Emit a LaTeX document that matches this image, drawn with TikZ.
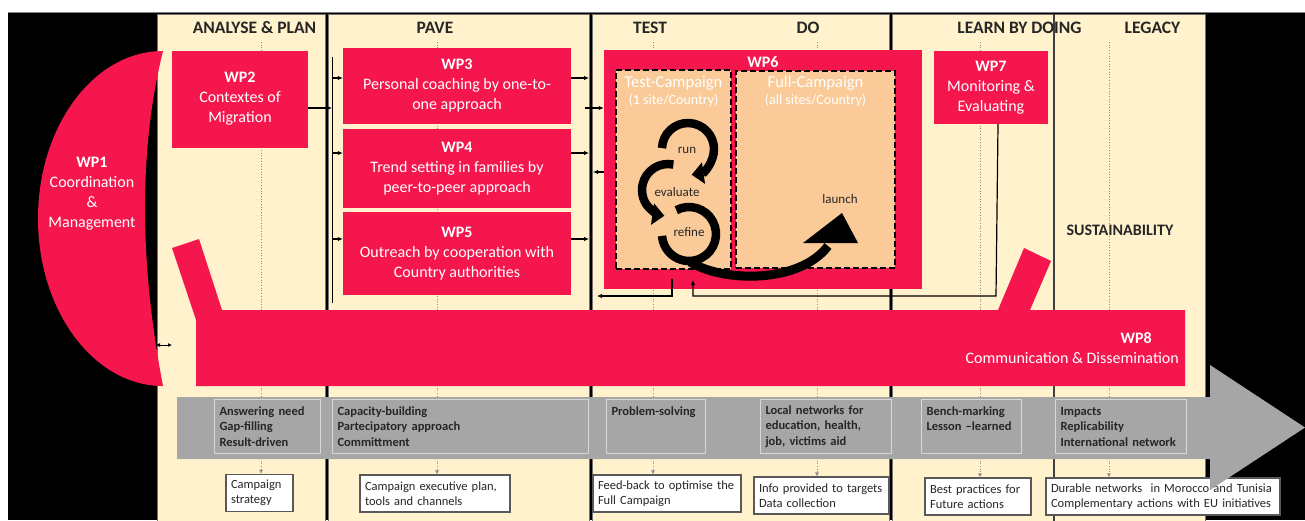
\documentclass[tikz,border=0pt]{standalone}
\usepackage{fontspec}
\setmainfont{Carlito}
\usetikzlibrary{arrows.meta,positioning}

\definecolor{wpred}{RGB}{244,22,76}
\definecolor{cream}{RGB}{255,242,204}
\definecolor{peach}{RGB}{250,203,153}
\definecolor{bandgray}{RGB}{166,166,166}
\definecolor{boxgray}{RGB}{216,216,216}
\definecolor{inkgray}{RGB}{38,38,38}

\begin{document}
\begin{tikzpicture}[x=1pt, y=-1pt]

% Styles for panels, work packages and boxes
\tikzstyle{panel} = [fill=cream, draw=black!55, line width=0.8pt]
\tikzstyle{phase} = [font=\fontsize{17.5}{20}\selectfont\bfseries, text=inkgray]
\tikzstyle{wp} = [fill=wpred, text=white, align=center, inner sep=0pt, font=\fontsize{16}{20}\selectfont]
\tikzstyle{campaign} = [fill=peach, draw=black, line width=1.8pt, dash pattern=on 6pt off 3pt]
\tikzstyle{ctitle} = [text=white, align=center, inner sep=0pt]
\tikzstyle{looptext} = [font=\fontsize{13}{15}\selectfont, text=inkgray]
\tikzstyle{cyclearc} = [line width=8.5pt]
\tikzstyle{feature} = [draw=boxgray, line width=1pt, anchor=north west, align=left, inner sep=5pt, minimum height=54pt, font=\fontsize{12.5}{15.5}\selectfont\bfseries, text=inkgray]
\tikzstyle{output} = [draw=black!65, fill=white, line width=1.2pt, align=left, inner xsep=5pt, minimum height=37pt, font=\fontsize{12.5}{15}\selectfont, text=inkgray]
\tikzstyle{link} = [line width=1.2pt, -{Latex[length=5pt, width=4.5pt]}]
\tikzstyle{guide} = [black!45, dotted, line width=0.7pt, -{Latex[length=4pt, width=4pt]}]

% Canvas
\fill[white] (0,0) rectangle (1305,520);
\useasboundingbox (0,0) rectangle (1305,520);
\fill[black] (8,12) rectangle (1305,520);
\draw[black!50, line width=0.8pt] (8,12) -- (1305,12);

% Phase panels
\draw[panel] (157,14) rectangle (325,522);
\draw[panel] (328,14) rectangle (589,522);
\draw[panel] (592,14) rectangle (889,522);
\draw[panel] (892,14) rectangle (1205,522);
\draw[black!75, line width=1.5pt] (1054,14) -- (1054,522);

\node[phase] (hA) at (254.5,28) {ANALYSE \& PLAN};
\node[phase] (hB) at (435,28) {PAVE};
\node[phase] (hC) at (650,28) {TEST};
\node[phase] (hD) at (808,28) {DO};
\node[phase] (hE) at (1019.5,28) {LEARN BY DOING};
\node[phase] (hF) at (1152.5,28) {LEGACY};
\node[phase, font=\fontsize{16}{18}\selectfont\bfseries] (sus) at (1120,230) {SUSTAINABILITY};

% Results of each phase
\node[output, text width=57pt] (out1) at (259.5,493) {Campaign\\strategy};
\node[output, text width=140pt] (out2) at (435,493.5) {Campaign executive plan,\\tools and channels};
\node[output, text width=138pt] (out3) at (667,493.5) {Feed-back to optimise the\\Full Campaign};
\node[output, text width=125pt] (out4) at (821.5,495.5) {Info provided to targets\\Data collection};
\node[output, text width=96pt] (out5) at (978,496.5) {Best practices for\\Future actions};
\node[output, text width=224pt] (out6) at (1163,496.5) {Durable networks~~in Morocco and Tunisia\\Complementary actions with EU initiatives};

\foreach \gx/\gn in {261/1, 437/2, 653/3, 817/4, 980/5, 1109/6} {
    \coordinate (g\gn) at (\gx,42);
    \draw[guide] (g\gn) -- (g\gn |- out\gn.north);
}

% WP1 and WP8
\fill[wpred] (163,51) .. controls (94,51) and (38,126) .. (38,218.5)
    .. controls (38,311) and (94,386) .. (163,386)
    .. controls (137,250) and (141,140) .. (163,51) -- cycle;
\node[wp, fill=none] (wp1) at (92,193.5) {\textbf{WP1}\\Coordination\\\&\\Management};

\fill[wpred] (172,248) -- (199,239) -- (222,310) -- (998,310) -- (1024,248) -- (1051,261)
    -- (1030,310) -- (1185,310) -- (1185,386) -- (196,386) -- (196,320) -- cycle;
\node[wp, fill=none, anchor=east, align=right] (wp8) at (1179,348) {\textbf{WP8}\hspace*{27pt}\\Communication \& Dissemination};

% Grey time arrow with key words
\fill[bandgray] (177,397) -- (1210,397) -- (1210,365) -- (1305,427.5) -- (1210,490) -- (1210,459) -- (177,459) -- cycle;

\node[feature, text width=96pt] (f1) at (214,399) {Answering need\\Gap-filling\\Result-driven};
\node[feature, text width=246pt] (f2) at (332,399) {Capacity-building\\Partecipatory approach\\Committment};
\node[feature, text width=89pt] (f3) at (606,399) {Problem-solving\\\mbox{}\\\mbox{}};
\node[feature, text width=121pt] (f4) at (760,399) {Local networks for\\education, health,\\job, victims aid};
\node[feature, text width=90pt] (f5) at (921,399) {Bench-marking\\Lesson –learned\\\mbox{}};
\node[feature, text width=121pt] (f6) at (1055,399) {Impacts\\Replicability\\International network};

% Work packages
\node[wp, minimum width=136pt, minimum height=97pt] (wp2) at (240,99) {\textbf{WP2}\\Contextes of\\Migration};
\node[wp, minimum width=228pt, minimum height=76pt] (wp3) at (457,86) {\textbf{WP3}\\Personal coaching by one-to-\\one approach};
\node[wp, minimum width=228pt, minimum height=79pt, below=5pt of wp3] (wp4) {\textbf{WP4}\\Trend setting in families by\\peer-to-peer approach};
\node[wp, minimum width=228pt, minimum height=83pt, below=3pt of wp4] (wp5) {\textbf{WP5}\\Outreach by cooperation with\\Country authorities};
\node[wp, minimum width=114pt, minimum height=73pt] (wp7) at (991,87.5) {\textbf{WP7}\\Monitoring \&\\Evaluating};

\node[wp, minimum width=318pt, minimum height=239pt] (wp6) at (763,169.5) {};
\node[wp, fill=none, font=\fontsize{16}{18}\selectfont\bfseries] (wp6t) at (763,62) {WP6};
\node[campaign, minimum width=115pt, minimum height=199pt] (testc) at (673.5,169.5) {};
\node[campaign, minimum width=159pt, minimum height=197pt] (fullc) at (815.5,169.5) {};
\node[ctitle, font=\fontsize{16.5}{18}\selectfont] (testt) at (673.5,83) {Test-Campaign};
\node[ctitle, font=\fontsize{14}{15}\selectfont] (tests) at (673.5,101) {(1 site/Country)};
\node[ctitle, font=\fontsize{16.5}{18}\selectfont] (fullt) at (815.5,83) {Full-Campaign};
\node[ctitle, font=\fontsize{14}{15}\selectfont] (fulls) at (815.5,101) {(all sites/Country)};

% run - evaluate - refine cycle and launch
\draw[cyclearc, -{Triangle[length=12pt, width=21pt]}] ([shift={(178:26pt)}]688,149) arc[start angle=178, end angle=-82, radius=26pt];
\draw[cyclearc, -{Triangle[length=12pt, width=21pt]}] ([shift={(78:26pt)}]668,190) arc[start angle=78, end angle=262, radius=26pt];
\draw[cyclearc] ([shift={(118:27pt)}]689,234) arc[start angle=118, end angle=-176, radius=27pt];
\draw[line width=9pt] (690,262) .. controls (725,283) and (800,283) .. (828,246);
\fill (803,243) -- (842,213) -- (858,243) -- cycle;

\node[looptext] (lrun) at (687,150) {run};
\node[looptext] (leval) at (677,192) {evaluate};
\node[looptext] (lref) at (689,232) {refine};
\node[looptext] (llaunch) at (840,199) {launch};

% Flows between work packages
\coordinate (busT) at (332,57);
\coordinate (busB) at (332,303);
\draw[line width=1pt] (busT) -- (busB);
\draw[link] ([yshift=-9pt]wp2.east) -- ([yshift=-9pt]wp2.east -| busT);
\foreach \w/\yy in {wp3/78, wp4/153, wp5/239} {
    \coordinate (b\w) at (332,\yy);
    \coordinate (r\w) at (589,\yy);
    \draw[link] (b\w) -- (b\w -| \w.west);
    \draw[link] (r\w -| \w.east) -- (r\w);
}

\coordinate (in6) at (585,108);
\draw[link] (in6) -- (in6 -| wp6.west);
\coordinate (out6) at (593,172);
\draw[link] (out6 -| wp6.west) -- (out6);

\coordinate (fb6) at (672,279);
\coordinate (fbL) at (597,296);
\draw[link] (fb6) |- (fbL);
\coordinate (mon) at (996,296);
\coordinate (ret6) at (693,280);
\draw[link] ([xshift=7pt]wp7.south) -- (mon) -| (ret6);

\coordinate (d1) at (156,345);
\coordinate (d2) at (172,345);
\draw[line width=1pt, {Latex[length=4pt, width=4pt]}-{Latex[length=4pt, width=4pt]}] (d1) -- (d2);

\end{tikzpicture}
\end{document}
